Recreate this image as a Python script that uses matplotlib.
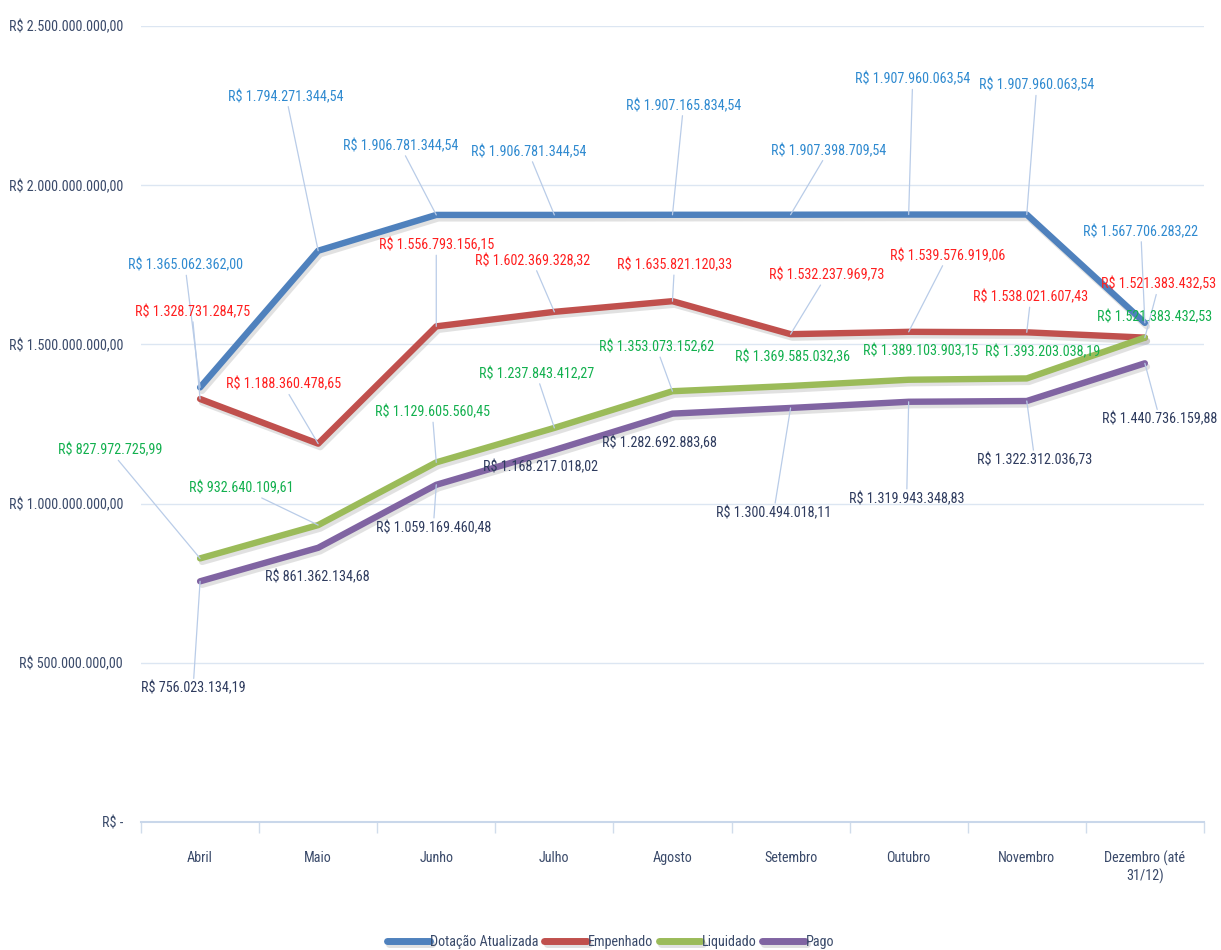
import matplotlib
matplotlib.use("Agg")
import matplotlib.pyplot as plt
import matplotlib.patheffects as pe
from matplotlib.ticker import FuncFormatter, MultipleLocator
import numpy as np

plt.rcParams['font.family'] = ['Roboto Condensed', 'DejaVu Sans']

# Meses do exercício
meses = ["Abril", "Maio", "Junho", "Julho", "Agosto", "Setembro",
         "Outubro", "Novembro", "Dezembro (até\n31/12)"]

# Valores em R$
dotacao = [1365062362.00, 1794271344.54, 1906781344.54, 1906781344.54,
           1907165834.54, 1907398709.54, 1907960063.54, 1907960063.54,
           1567706283.22]
empenhado = [1328731284.75, 1188360478.65, 1556793156.15, 1602369328.32,
             1635821120.33, 1532237969.73, 1539576919.06, 1538021607.43,
             1521383432.53]
liquidado = [827972725.99, 932640109.61, 1129605560.45, 1237843412.27,
             1353073152.62, 1369585032.36, 1389103903.15, 1393203038.19,
             1521383432.53]
pago = [756023134.19, 861362134.68, 1059169460.48, 1168217018.02,
        1282692883.68, 1300494018.11, 1319943348.83, 1322312036.73,
        1440736159.88]

# deslocamento dos rótulos em pixels (dx, dy)
off_dotacao = [(-15, 122), (-32, 154), (-36, 69), (-26, 63), (11, 109),
               (38, 64), (4, 135), (10, 129), (-4, 91)]
off_empenhado = [(-8, 87), (-35, 59), (0, 81), (-22, 51), (2, 36),
                 (36, 59), (39, 76), (4, 35), (14, 53)]
off_liquidado = [(-90, 108), (-77, 37), (-4, 50), (-18, 54), (-16, 44),
                 (2, 29), (12, 29), (16, 26), (10, 20)]
off_pago = [(-7, -107), (-1, -29), (-3, -43), (-14, -17), (-13, -30),
            (-17, -105), (-2, -97), (8, -59), (15, -56)]

FS = 10.2


def brl(v):
    s = f"{v:,.2f}"
    s = s.replace(",", "X").replace(".", ",").replace("X", ".")
    return "R$ " + s


def eixo_y(v, pos):
    if v == 0:
        return "R$ -"
    return brl(v)


fig = plt.figure(figsize=(12.21, 9.5), dpi=100)
ax = fig.add_axes([0.1155, 0.1347, 0.8705, 0.8379])

x = np.arange(len(meses))
series = [
    ("Dotação Atualizada", dotacao, "#4F81BD", "#2F8AD0", off_dotacao),
    ("Empenhado", empenhado, "#C0504D", "#FF1F1F", off_empenhado),
    ("Liquidado", liquidado, "#9BBB59", "#12B04E", off_liquidado),
    ("Pago", pago, "#8064A2", "#2E3B5E", off_pago),
]

shadow = [pe.SimpleLineShadow(offset=(1.5, -2.5), shadow_color="#8a8a8a", alpha=0.25),
          pe.Normal()]

for nome, vals, cor, cor_txt, offs in series:
    ax.plot(x, vals, color=cor, lw=4.6, label=nome, solid_capstyle="round",
            path_effects=shadow, zorder=3)

for nome, vals, cor, cor_txt, offs in series:
    for i, v in enumerate(vals):
        dx, dy = offs[i]
        leader = np.hypot(dx, dy) > 34
        ax.annotate(brl(v), xy=(i, v), xytext=(dx, dy), textcoords="offset pixels",
                    ha="center", va="center", fontsize=FS, color=cor_txt, zorder=5,
                    arrowprops=dict(arrowstyle="-", color="#B9CCE8", lw=0.9,
                                    shrinkA=0, shrinkB=0) if leader else None)

ax.set_xlim(-0.5, len(meses) - 0.5)
ax.set_ylim(0, 2.5e9)
ax.yaxis.set_major_locator(MultipleLocator(5e8))
ax.yaxis.set_major_formatter(FuncFormatter(eixo_y))
ax.grid(axis="y", color="#DCE6F2", lw=1.0, zorder=0)
ax.set_axisbelow(True)

ax.set_xticks(x)
ax.set_xticklabels(meses)
ax.set_xticks(np.arange(-0.5, len(meses)), minor=True)
ax.tick_params(axis="x", which="major", length=0, pad=20.5, labelsize=FS,
               labelcolor="#3A4A6A")
ax.tick_params(axis="x", which="minor", length=8, color="#D0DCEB", width=1)
ax.tick_params(axis="y", length=0, pad=13, labelsize=FS, labelcolor="#3A4A6A")

for s in ["top", "right", "left"]:
    ax.spines[s].set_visible(False)
ax.spines["bottom"].set_color("#C9D7EA")
ax.spines["bottom"].set_linewidth(1.5)

leg = fig.legend(loc="lower center", bbox_to_anchor=(0.5, -0.012), ncol=4,
                 frameon=False, fontsize=FS, handlelength=3.0, handletextpad=0.05,
                 columnspacing=0.4)
for t in leg.get_texts():
    t.set_color("#3A4A6A")
for h in leg.get_lines():
    h.set_linewidth(5)

fig.savefig("out.png", dpi=100)
